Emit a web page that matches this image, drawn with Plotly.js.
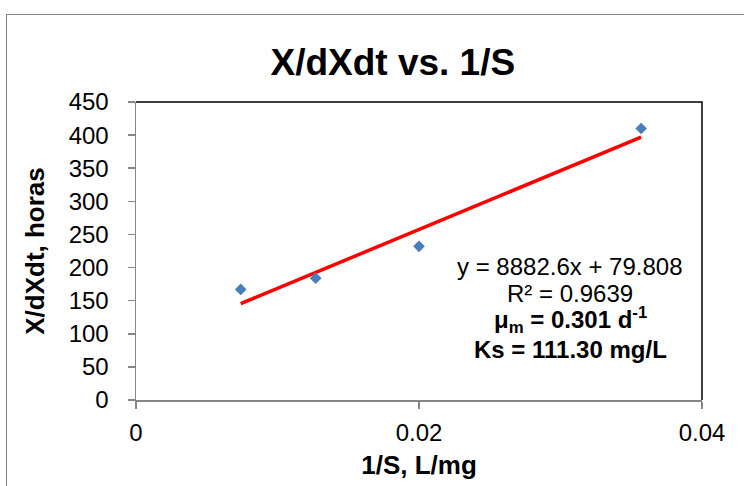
<!DOCTYPE html>
<html>
<head>
<meta charset="utf-8">
<script src="https://cdn.plot.ly/plotly-3.0.1.min.js"></script>
<style>
  html, body { margin: 0; padding: 0; background: #fff; }
  #wrap { position: relative; width: 744px; height: 486px; overflow: hidden; }
  #chart { position: absolute; left: 0; top: 0; width: 744px; height: 486px; }
  #frame { position: absolute; left: 6px; top: 14px; width: 760px; height: 500px;
           border-left: 1.5px solid #878787; border-top: 1.5px solid #878787; pointer-events: none; }
</style>
</head>
<body>
<div id="wrap">
  <div id="chart"></div>
  <div id="frame"></div>
</div>
<script>
// Data
const invS = [0.0074, 0.0127, 0.0200, 0.0357];      // 1/S, L/mg
const xdxdt = [167, 184, 232, 410];                  // X/dXdt, horas
// Trendline coefficients as printed on the chart
const slope = 8882.6;
const intercept = 79.808;
const eqLines = [
  'y = 8882.6x + 79.808',
  'R² = 0.9639',
  '<b>μ<sub>m</sub> = 0.301 d<sup>-1</sup></b>',
  '<b>Ks = 111.30 mg/L</b>'
];
const xTickVals = [0, 0.02, 0.04];
const xTickText = ['0', '0.02', '0.04'];
const yTickVals = [0, 50, 100, 150, 200, 250, 300, 350, 400, 450];

const xMin = Math.min(...invS), xMax = Math.max(...invS);
const trendX = [xMin, xMax];
const trendY = trendX.map(v => slope * v + intercept);

const FONT = 'Arial, "Liberation Sans", sans-serif';

const traces = [
  {
    x: trendX, y: trendY, type: 'scatter', mode: 'lines',
    line: { color: '#ff0000', width: 3.5 }, hoverinfo: 'skip', showlegend: false
  },
  {
    x: invS, y: xdxdt, type: 'scatter', mode: 'markers',
    marker: { symbol: 'diamond', size: 9, color: '#4a7ebb', line: { width: 0 } },
    showlegend: false
  }
];

const annY = [0.448, 0.358, 0.270, 0.170];
const annotations = eqLines.map((t, i) => ({
  xref: 'paper', yref: 'paper', x: 0.767, y: annY[i],
  xanchor: 'center', yanchor: 'middle', showarrow: false,
  text: t, font: { family: FONT, size: 24, color: '#000' }
}));

const layout = {
  width: 744, height: 486,
  margin: { l: 136, r: 42, t: 102, b: 86 },
  paper_bgcolor: '#fff', plot_bgcolor: '#fff',
  font: { family: FONT, color: '#000' },
  title: {
    text: '<b>X/dXdt vs. 1/S</b>',
    font: { family: FONT, size: 37, color: '#000' },
    x: 0.528, xanchor: 'center', y: 0.872, yanchor: 'middle'
  },
  xaxis: {
    range: [0, 0.04], tickvals: xTickVals, ticktext: xTickText,
    showgrid: false, zeroline: false,
    showline: true, linecolor: '#868686', linewidth: 1.5,
    ticks: 'outside', ticklen: 7, tickcolor: '#868686', tickwidth: 1.5,
    ticklabelstandoff: 4,
    tickfont: { family: FONT, size: 24, color: '#000' },
    title: { text: '<b>1/S, L/mg</b>', font: { family: FONT, size: 26, color: '#000' }, standoff: 10 }
  },
  yaxis: {
    range: [0, 450], tickvals: yTickVals,
    showgrid: false, zeroline: false,
    showline: true, linecolor: '#868686', linewidth: 1.5,
    ticks: 'outside', ticklen: 7, tickcolor: '#868686', tickwidth: 1.5,
    ticklabelstandoff: 14,
    tickfont: { family: FONT, size: 24, color: '#000' },
    title: { text: '<b>X/dXdt, horas</b>', font: { family: FONT, size: 26, color: '#000' }, standoff: 16 }
  },
  shapes: [{
    type: 'path', xref: 'paper', yref: 'paper',
    path: 'M 0 1 L 1 1 L 1 0', line: { color: '#000', width: 1.5 }, layer: 'below'
  }],
  annotations: annotations
};

Plotly.newPlot('chart', traces, layout, { displayModeBar: false, staticPlot: true });
</script>
</body>
</html>
